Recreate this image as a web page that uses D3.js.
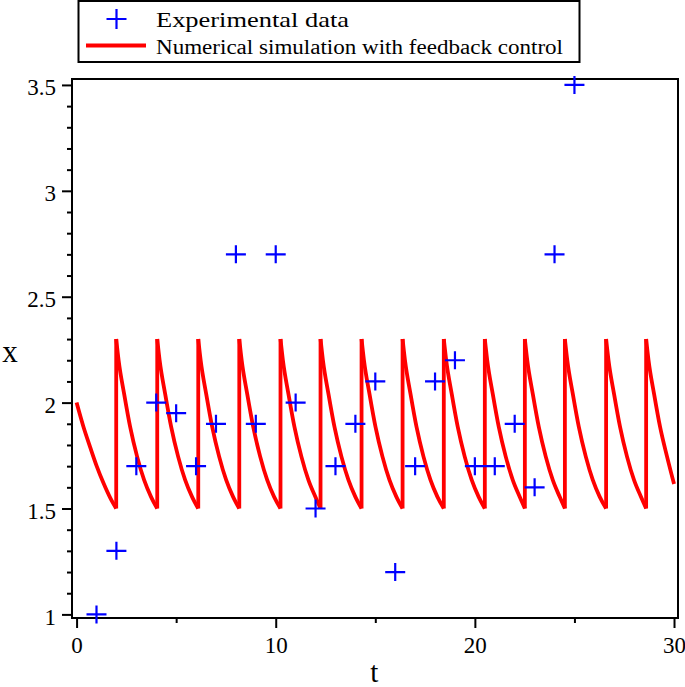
<!DOCTYPE html>
<html lang="en">
<head>
<meta charset="UTF-8">
<title>Experimental data vs feedback control simulation</title>
<style>
    body { margin: 0; padding: 0; background: #fff; }
    svg { display: block; }
</style>
</head>
<body>
<div id="chart"></div>
<script src="https://cdn.jsdelivr.net/npm/d3@7/dist/d3.min.js"></script>
<script>
    // experimental data (t, x)
    const expT = [1, 2, 3, 4, 5, 6, 7, 8, 9, 10, 11, 12, 13, 14, 15, 16, 17, 18, 19, 20, 21, 22, 23, 24, 25];
    const expX = [1.0, 1.3, 1.7, 2.0, 1.95, 1.7, 1.9, 2.7, 1.9, 2.7, 2.0, 1.5, 1.7, 1.9, 2.1, 1.2, 1.7, 2.1, 2.2, 1.7, 1.7, 1.9, 1.6, 2.7, 3.5];

    // simulation: first decay, impulse times, decay shape after each impulse
    const firstT = [0, 0.34, 0.68, 1.01, 1.35, 1.69];
    const firstX = [2.0, 1.887, 1.79, 1.70, 1.62, 1.55];
    const jumpT = [1.99, 4.05, 6.11, 8.17, 10.24, 12.25, 14.31, 16.37, 18.44, 20.5, 22.51, 24.52, 26.59, 28.6];
    const decayOffset = [0, 0.12, 0.4, 0.7, 1.05, 1.4, 1.75];
    const decayX = [2.30, 2.2, 2.04, 1.885, 1.745, 1.635, 1.555];
    const lowX = 1.5;
    const endT = 30, endX = 1.616;

    const xMajor = [0, 10, 20, 30];
    const xMinor = [5, 15, 25];
    const yMajor = [1, 1.5, 2, 2.5, 3, 3.5];
    const yMajorLabels = ['1', '1.5', '2', '2.5', '3', '3.5'];

    const FONT = '"Liberation Serif", "Times New Roman", Times, serif';
    const W = 685, H = 687;
    const plot = { left: 72, right: 678, top: 79, bottom: 618 };

    const svg = d3.select('#chart').append('svg')
        .attr('width', W)
        .attr('height', H)
        .attr('font-family', FONT);

    const x = d3.scaleLinear().domain([-0.23, 30.2]).range([plot.left, plot.right]);
    const y = d3.scaleLinear().domain([0.983, 3.528]).range([plot.bottom, plot.top]);

    // axes
    const yMinor = d3.range(10, 36).map(d => d / 10).filter(v => !yMajor.some(m => Math.abs(m - v) < 1e-6));

    svg.append('g')
        .attr('transform', `translate(${plot.left},0)`)
        .call(d3.axisLeft(y).tickValues(yMinor).tickSize(5).tickSizeOuter(0).tickFormat(''))
        .call(g => g.select('.domain').remove());

    svg.append('g')
        .attr('transform', `translate(${plot.left},0)`)
        .call(d3.axisLeft(y).tickValues(yMajor).tickSize(10).tickSizeOuter(0).tickPadding(6)
            .tickFormat((d, i) => yMajorLabels[i]))
        .attr('font-family', FONT)
        .attr('font-size', 23)
        .call(g => g.select('.domain').remove())
        .call(g => g.selectAll('text').attr('dy', '0.42em').attr('fill', '#000'));

    svg.append('g')
        .attr('transform', `translate(0,${plot.bottom})`)
        .call(d3.axisBottom(x).tickValues(xMinor).tickSize(5).tickSizeOuter(0).tickFormat(''))
        .call(g => g.select('.domain').remove());

    svg.append('g')
        .attr('transform', `translate(0,${plot.bottom})`)
        .call(d3.axisBottom(x).tickValues(xMajor).tickSize(10).tickSizeOuter(0).tickPadding(9).tickFormat(d3.format('d')))
        .attr('font-family', FONT)
        .attr('font-size', 23)
        .call(g => g.select('.domain').remove())
        .call(g => g.selectAll('text').attr('fill', '#000'));

    svg.selectAll('.tick line').attr('stroke', '#000').attr('stroke-width', 2);

    // frame
    svg.append('rect')
        .attr('x', plot.left).attr('y', plot.top)
        .attr('width', plot.right - plot.left).attr('height', plot.bottom - plot.top)
        .attr('fill', 'none').attr('stroke', '#000').attr('stroke-width', 2);

    // axis titles
    svg.append('text')
        .attr('x', x(15) - 1).attr('y', 682)
        .attr('text-anchor', 'middle')
        .attr('font-size', 29)
        .text('t');

    svg.append('text')
        .attr('x', 10).attr('y', 362)
        .attr('text-anchor', 'middle')
        .attr('font-size', 31)
        .text('x');

    // simulation curve
    const line = d3.line().x(d => x(d[0])).y(d => y(d[1])).curve(d3.curveMonotoneX);
    const segments = [];
    const first = firstT.map((t, i) => [t, firstX[i]]);
    first.push([jumpT[0], lowX]);
    segments.push(first);
    jumpT.forEach((tj, j) => {
        const tEnd = j + 1 < jumpT.length ? jumpT[j + 1] : endT;
        const pts = decayOffset
            .map((o, i) => [tj + o, decayX[i]])
            .filter(p => p[0] < tEnd - 0.05);
        pts.push([tEnd, j + 1 < jumpT.length ? lowX : endX]);
        segments.push(pts);
    });

    const sim = svg.append('g')
        .attr('fill', 'none')
        .attr('stroke', '#ff0000')
        .attr('stroke-width', 3.8)
        .attr('stroke-linejoin', 'round');

    sim.selectAll('path.decay')
        .data(segments)
        .join('path')
        .attr('class', 'decay')
        .attr('d', line);

    sim.selectAll('line.jump')
        .data(jumpT)
        .join('line')
        .attr('class', 'jump')
        .attr('x1', d => x(d)).attr('x2', d => x(d))
        .attr('y1', y(lowX)).attr('y2', y(decayX[0]));

    // experimental crosses
    const cross = 'M-10,0H10M0,-9V9';
    svg.append('g')
        .selectAll('path')
        .data(expT.map((t, i) => [t, expX[i]]))
        .join('path')
        .attr('transform', d => `translate(${x(d[0])},${y(d[1])})`)
        .attr('d', cross)
        .attr('fill', 'none')
        .attr('stroke', '#0000ff')
        .attr('stroke-width', 2.2);

    // legend
    const legend = svg.append('g');
    legend.append('rect')
        .attr('x', 78.5).attr('y', 1)
        .attr('width', 501).attr('height', 61)
        .attr('fill', '#fff').attr('stroke', '#000').attr('stroke-width', 2);

    legend.append('path')
        .attr('transform', 'translate(116.5,19)')
        .attr('d', 'M-10,0H10M0,-10V10')
        .attr('fill', 'none').attr('stroke', '#0000ff').attr('stroke-width', 2.2);

    legend.append('line')
        .attr('x1', 86).attr('x2', 146).attr('y1', 45.5).attr('y2', 45.5)
        .attr('stroke', '#ff0000').attr('stroke-width', 4);

    legend.append('text')
        .attr('x', 156).attr('y', 27)
        .attr('textLength', 193).attr('lengthAdjust', 'spacingAndGlyphs')
        .attr('font-size', 21)
        .text('Experimental data');

    legend.append('text')
        .attr('x', 156).attr('y', 54)
        .attr('textLength', 407).attr('lengthAdjust', 'spacingAndGlyphs')
        .attr('font-size', 20)
        .text('Numerical simulation with feedback control');
</script>
</body>
</html>
